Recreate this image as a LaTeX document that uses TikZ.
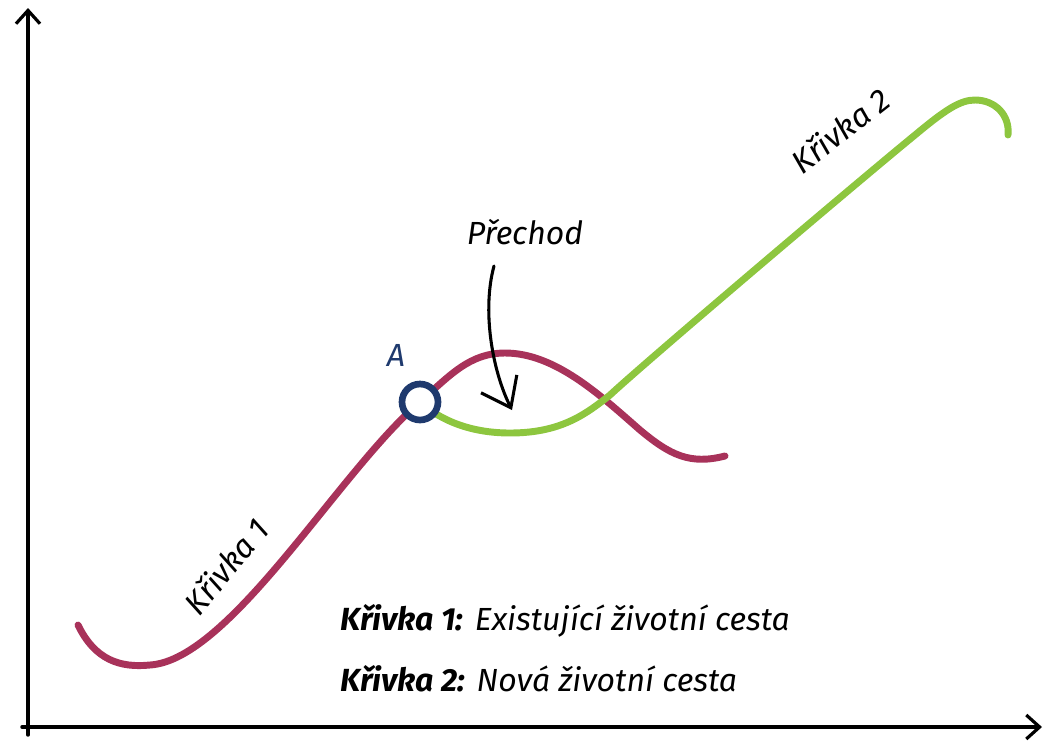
\documentclass[tikz,border=0pt]{standalone}
\usepackage{fontspec}
\setmainfont{Fira Sans}
\usetikzlibrary{arrows.meta}
\definecolor{curveone}{HTML}{A8325A}
\definecolor{curvetwo}{HTML}{8DC63F}
\definecolor{navy}{HTML}{1F3A6E}
\tikzset{
  axis/.style={line width=2.6pt, line cap=round, -{Straight Barb[length=10pt,width=18pt,line width=2.4pt]}},
  curve/.style={line width=5.2pt, line cap=round},
  lbl/.style={font=\itshape\fontsize{24}{28}\selectfont, inner sep=0pt},
  legend/.style={font=\fontsize{24}{28}\selectfont, anchor=west, inner sep=0pt},
}
\begin{document}
\begin{tikzpicture}[x=0.75pt,y=-0.75pt]
\useasboundingbox (0,0) rectangle (1046,740);
% axes
\coordinate (O) at (28,735);
\coordinate (Ytop) at (28,8);
\coordinate (Xl) at (22,727);
\coordinate (Xr) at (1042,727);
\draw[axis] (O) -- (Ytop);
\draw[axis] (Xl) -- (Xr);
% curve 1
\draw[curve, curveone] (78,625) .. controls (95,660) and (120,668) .. (150,665)
  .. controls (230,660) and (340,470) .. (420,402)
  .. controls (450,375) and (470,353) .. (505,353)
  .. controls (555,353) and (600,395) .. (640,430)
  .. controls (670,455) and (690,465) .. (725,456);
% curve 2
\draw[curve, curvetwo] (420,402) .. controls (440,420) and (470,433) .. (510,433)
  .. controls (560,433) and (585,415) .. (610,395)
  .. controls (650,358) and (860,180) .. (915,135)
  .. controls (945,110) and (960,100) .. (975,100)
  .. controls (995,100) and (1010,115) .. (1008,135);
% point A
\node[circle, draw=navy, line width=5pt, fill=white, minimum size=27pt, inner sep=0pt] (A) at (420,402) {};
\node[lbl, text=navy] (Alabel) at (396,355) {A};
% transition
\node[lbl] (prechod) at (525,232) {Přechod};
\coordinate (arrstart) at (494,266);
\coordinate (arrend) at (512,410);
\draw[line width=2.3pt, line cap=round, -{Straight Barb[length=20pt,width=30pt,line width=2.3pt]}]
  (arrstart) .. controls (482,310) and (492,370) .. (arrend);
% curve labels
\node[lbl, rotate=50] (k1) at (226,566) {Křivka 1};
\node[lbl, rotate=38] (k2) at (840,130) {Křivka 2};
% legend
\node[legend] (leg1) at (340,621) {\textbf{\itshape Křivka 1:} \itshape Existující životní cesta};
\node[legend] (leg2) at (340,679) {\textbf{\itshape Křivka 2:} \itshape Nová životní cesta};
\end{tikzpicture}
\end{document}
